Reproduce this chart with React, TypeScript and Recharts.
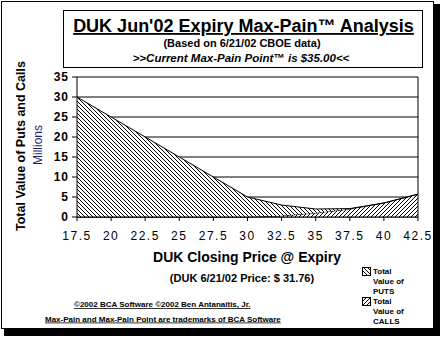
import { AreaChart, Area, XAxis, YAxis, CartesianGrid, ReferenceLine } from "recharts";

const prices = [17.5, 20, 22.5, 25, 27.5, 30, 32.5, 35, 37.5, 40, 42.5];
const callValues = [0, 0, 0, 0, 0, 0, 0.3, 1, 2, 3.5, 5.7];
const putValues = [30, 25, 20, 15, 10, 5, 2.7, 1, 0.1, 0, 0];
const yTicks = [0, 5, 10, 15, 20, 25, 30, 35];

const data = prices.map((p, i) => ({ price: p, calls: callValues[i], puts: putValues[i] }));

const font = "'Liberation Sans', Arial, sans-serif";

function Legend() {
  const items = [
    { pat: "hatchPuts", lines: ["Total", "Value of", "PUTS"], y: 267 },
    { pat: "hatchCalls", lines: ["Total", "Value of", "CALLS"], y: 297 },
  ];
  return (
    <g>
      {items.map((it) => (
        <g key={it.pat}>
          <rect x={362.5} y={it.y + 0.5} width={8} height={8} fill={`url(#${it.pat})`} stroke="#000" />
          {it.lines.map((l, j) => (
            <text key={j} x={373} y={it.y + 7 + j * 10} fontSize={8} fontWeight="bold" fontFamily={font}>
              {l}
            </text>
          ))}
        </g>
      ))}
    </g>
  );
}

export default function App() {
  return (
    <div style={{ position: "absolute", left: 0, top: 0, width: 442, height: 342, background: "#fff" }}>
      <div style={{ position: "absolute", left: 4, top: 4, width: 436, height: 332, background: "#000" }} />
      <div style={{ position: "absolute", left: 1, top: 1, width: 433, height: 328, background: "#fff", border: "1px solid #000", boxSizing: "border-box" }} />
      <div style={{ position: "absolute", left: 63, top: 10, width: 360, height: 58, border: "1px solid #000", boxSizing: "border-box" }} />
      <div style={{ position: "absolute", left: 0, top: 0 }}>
        <AreaChart width={442} height={342} data={data} margin={{ top: 77, right: 24, bottom: 95, left: 17 }}>
          <defs>
            <pattern id="hatchPuts" width={4} height={4} patternUnits="userSpaceOnUse">
              <rect width={4} height={4} fill="#fff" />
              <path d="M-1,-1 L5,5 M-1,3 L1,5 M3,-1 L5,1" stroke="#000" strokeWidth={1} shapeRendering="crispEdges" />
            </pattern>
            <pattern id="hatchCalls" width={4} height={4} patternUnits="userSpaceOnUse">
              <rect width={4} height={4} fill="#fff" />
              <path d="M-1,5 L5,-1 M-1,1 L1,-1 M3,5 L5,3" stroke="#000" strokeWidth={1} shapeRendering="crispEdges" />
            </pattern>
          </defs>
          <CartesianGrid vertical={false} stroke="#000" strokeOpacity={1} />
          <XAxis
            dataKey="price"
            type="number"
            domain={[17.5, 42.5]}
            ticks={prices}
            interval={0}
            stroke="#000"
            tickSize={4}
            tickMargin={10}
            tick={{ fill: "#000", fontSize: 12, fontFamily: font, letterSpacing: 1.5 }}
          />
          <YAxis
            domain={[0, 35]}
            ticks={yTicks}
            interval={0}
            width={60}
            stroke="#000"
            tickSize={5}
            tickMargin={3}
            tick={{ fill: "#000", fontSize: 12, fontWeight: "bold", fontFamily: font, letterSpacing: 1 }}
          />
          <ReferenceLine x={42.5} stroke="#000" />
          <Area type="linear" dataKey="calls" stackId="1" stroke="#000" fill="url(#hatchCalls)" fillOpacity={1} isAnimationActive={false} />
          <Area type="linear" dataKey="puts" stackId="1" stroke="#000" fill="url(#hatchPuts)" fillOpacity={1} isAnimationActive={false} />
        </AreaChart>
      </div>
      <svg width={442} height={342} style={{ position: "absolute", left: 0, top: 0, pointerEvents: "none" }}>
        <g fontFamily={font} fill="#000">
          <text x={243.5} y={32} fontSize={18} fontWeight="bold" textAnchor="middle" textDecoration="underline">
            DUK Jun'02 Expiry Max-Pain™ Analysis
          </text>
          <text x={242} y={46.5} fontSize={11} fontWeight="bold" textAnchor="middle">
            (Based on 6/21/02 CBOE data)
          </text>
          <text x={241} y={61.5} fontSize={11.5} fontWeight="bold" fontStyle="italic" textAnchor="middle">
            {">>Current Max-Pain Point™ is $35.00<<"}
          </text>
          <text transform="translate(25,146) rotate(-90)" fontSize={12.5} fontWeight="bold" textAnchor="middle">
            Total Value of Puts and Calls
          </text>
          <text transform="translate(42,145) rotate(-90)" fontSize={12} fill="#1f1f6e" textAnchor="middle">
            Millions
          </text>
          <text x={247} y={262} fontSize={14} fontWeight="bold" textAnchor="middle">
            DUK Closing Price @ Expiry
          </text>
          <text x={242} y={282} fontSize={11} fontWeight="bold" textAnchor="middle">
            (DUK 6/21/02 Price: $ 31.76)
          </text>
          <text x={74} y={307} fontSize={8} fontWeight="bold" textDecoration="underline">
            ©2002 BCA Software  ©2002 Ben Antanaitis, Jr.
          </text>
          <text x={45} y={321.5} fontSize={8} fontWeight="bold" textDecoration="underline">
            Max-Pain and Max-Pain Point are trademarks of BCA Software
          </text>
          <Legend />
        </g>
      </svg>
    </div>
  );
}
